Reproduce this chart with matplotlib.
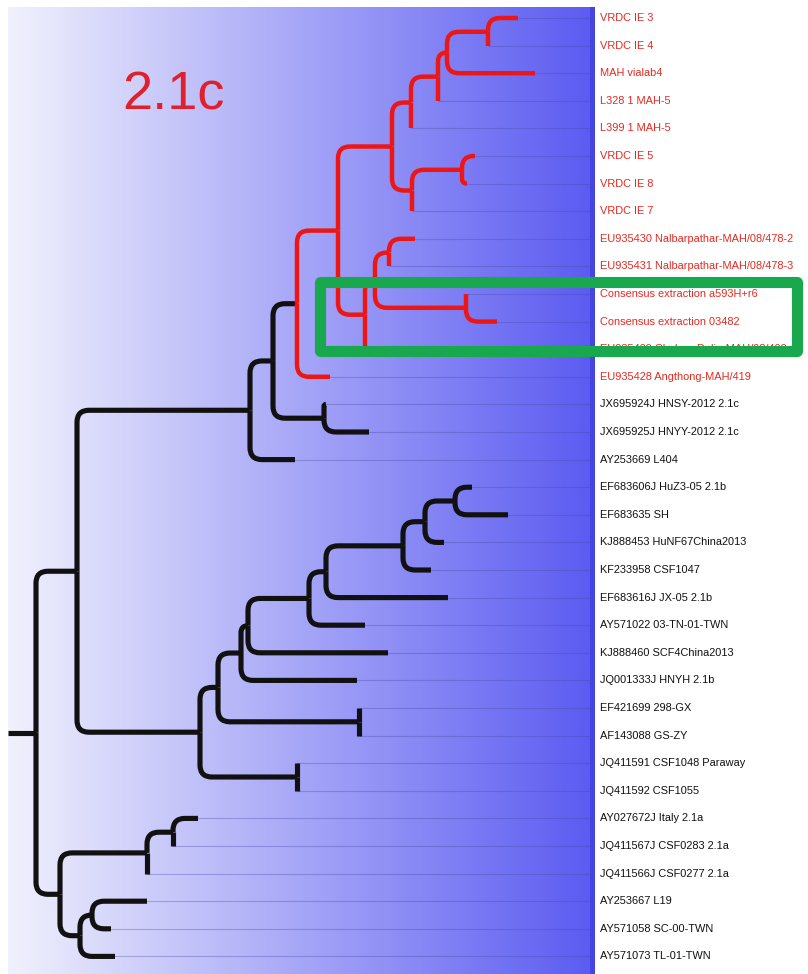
import matplotlib
matplotlib.use("Agg")
import matplotlib.pyplot as plt
import numpy as np
from matplotlib import font_manager
from matplotlib.path import Path
from matplotlib.patches import PathPatch, Rectangle

# ---- tip labels, top to bottom ----
leaf_labels = [
    "VRDC IE 3",
    "VRDC IE 4",
    "MAH vialab4",
    "L328 1 MAH-5",
    "L399 1 MAH-5",
    "VRDC IE 5",
    "VRDC IE 8",
    "VRDC IE 7",
    "EU935430 Nalbarpathar-MAH/08/478-2",
    "EU935431 Nalbarpathar-MAH/08/478-3",
    "Consensus extraction a593H+r6",
    "Consensus extraction 03482",
    "EU935429 Chabua-Dulia-MAH/08/402",
    "EU935428 Angthong-MAH/419",
    "JX695924J HNSY-2012 2.1c",
    "JX695925J HNYY-2012 2.1c",
    "AY253669 L404",
    "EF683606J HuZ3-05 2.1b",
    "EF683635 SH",
    "KJ888453 HuNF67China2013",
    "KF233958 CSF1047",
    "EF683616J JX-05 2.1b",
    "AY571022 03-TN-01-TWN",
    "KJ888460 SCF4China2013",
    "JQ001333J HNYH 2.1b",
    "EF421699 298-GX",
    "AF143088 GS-ZY",
    "JQ411591 CSF1048 Paraway",
    "JQ411592 CSF1055",
    "AY027672J Italy 2.1a",
    "JQ411567J CSF0283 2.1a",
    "JQ411566J CSF0277 2.1a",
    "AY253667 L19",
    "AY571058 SC-00-TWN",
    "AY571073 TL-01-TWN",
]

# leaves belonging to the highlighted 2.1c clade (drawn in red)
highlight_leaves = list(range(14))
boxed_leaves = [10, 11, 12]
clade_title = "2.1c"

# ---- topology with branch lengths (leaf ids index leaf_labels) ----
sub_2_1c_top = "(((((0:0.030,1:0):0.041,2:0.088):0.009,3:0):0.027,4:0):0.019,((5:0.013,6:0.005):0.050,7:0):0.020)"
sub_2_1c_box = "(((8:0.026,9:0):0.014,(10:0,11:0.031):0.091):0.010,12:0.001)"
red_clade = "((" + sub_2_1c_top + ":0.054," + sub_2_1c_box + ":0.027):0.041,13:0.033)"
group_2_1c = "((" + red_clade + ":0.024,(14:0.002,15:0.045):0.051):0.023,16:0.045)"
group_2_1b = ("((((((((17:0.017,18:0.053):0.030,19:0.019):0.022,20:0.028):0.077,21:0.122):0.017,"
              "22:0.056):0.061,23:0.140):0.007,24:0.116):0.023,(25:0,26:0):0.141)")
group_2_1b = "(" + group_2_1b + ":0.018,(27:0,28:0):0.097)"
group_2_1a = "(((29:0.025,30:0):0.026,31:0):0.087,((32:0.055,33:0.019):0.012,34:0.035):0.020)"
newick = "((" + group_2_1c + ":0.173," + group_2_1b + ":0.123):0.041," + group_2_1a + ":0.024):0.028"


def parse_newick(s):
    pos = 0

    def node():
        nonlocal pos
        children, leaf = [], None
        if s[pos] == "(":
            pos += 1
            while True:
                children.append(node())
                if s[pos] == ",":
                    pos += 1
                    continue
                pos += 1  # ')'
                break
        else:
            start = pos
            while s[pos] not in ":,)":
                pos += 1
            leaf = int(s[start:pos])
        length = 0.0
        if pos < len(s) and s[pos] == ":":
            pos += 1
            start = pos
            while pos < len(s) and s[pos] not in ",)":
                pos += 1
            length = float(s[start:pos])
        return {"children": children, "leaf": leaf, "len": length}

    return node()


tree = parse_newick(newick)


def layout(n, x0):
    n["x"] = x0 + n["len"]
    if n["leaf"] is not None:
        n["y"] = float(n["leaf"])
    else:
        for c in n["children"]:
            layout(c, n["x"])
        n["y"] = 0.5 * (n["children"][0]["y"] + n["children"][-1]["y"])


layout(tree, 0.0)

# label font: a narrow face if one is installed
try:
    font_manager.findfont(font_manager.FontProperties(family="Liberation Sans Narrow"),
                          fallback_to_default=False)
    label_family, label_size = "Liberation Sans Narrow", 9.0
except Exception:
    label_family, label_size = "Liberation Sans", 7.9

# ---- figure ----
W, H, DPI = 808, 974, 100
fig = plt.figure(figsize=(W / DPI, H / DPI), dpi=DPI)
ax = fig.add_axes([0, 0, 1, 1])
ax.axis("off")

PX_X = 1000.0          # pixels per unit of branch length
PX_Y = 27.6            # pixels per leaf row
X0_PX, Y0_PX = 8, 18   # pixel position of distance 0 and of leaf 0


def xd(px):
    return (px - X0_PX) / PX_X


def yd(px):
    return (px - Y0_PX) / PX_Y


ax.set_xlim(xd(0), xd(W))
ax.set_ylim(yd(H), yd(0))

# background gradient panel
grad_right = xd(590)
left_c = np.array([241, 241, 253]) / 255
right_c = np.array([92, 92, 242]) / 255
t = np.linspace(0, 1, 400)
grad = (left_c[None, :] * (1 - t[:, None]) + right_c[None, :] * t[:, None])[None, :, :]
ax.imshow(grad, extent=(xd(8), grad_right, yd(H), yd(7)), aspect="auto",
          interpolation="bilinear", zorder=0)
ax.add_patch(Rectangle((grad_right, yd(7)), xd(595) - grad_right, yd(H) - yd(7),
                       facecolor="#4545e2", edgecolor="none", zorder=0.5))

BLACK = "#111111"
RED = "#ee1515"
LABEL_RED = "#e42a22"

red_set = set(highlight_leaves)


def leaves_of(n):
    if n["leaf"] is not None:
        return [n["leaf"]]
    out = []
    for c in n["children"]:
        out += leaves_of(c)
    return out


def is_red(n):
    return set(leaves_of(n)) <= red_set


def branch(xn, yn, xc, yc, color, lw):
    dx_px = (xc - xn) * PX_X
    dy_px = abs(yc - yn) * PX_Y
    if dx_px < 1.0:
        verts = [(xn, yn), (xn, yc)]
        codes = [Path.MOVETO, Path.LINETO]
    else:
        r = min(12.0, dy_px, dx_px)
        sgn = np.sign(yc - yn)
        verts = [(xn, yn), (xn, yc - sgn * r / PX_Y), (xn, yc), (xn + r / PX_X, yc), (xc, yc)]
        codes = [Path.MOVETO, Path.LINETO, Path.CURVE3, Path.CURVE3, Path.LINETO]
    ax.add_patch(PathPatch(Path(verts, codes), fill=False, edgecolor=color, lw=lw,
                           capstyle="butt", joinstyle="round", zorder=3))


tips_x = {}


def draw(n):
    if n["leaf"] is not None:
        tips_x[n["leaf"]] = n["x"]
        return
    red = is_red(n)
    for c in n["children"]:
        branch(n["x"], n["y"], c["x"], c["y"], RED if red else BLACK, 3.2 if red else 3.7)
        draw(c)


# root stub
ax.plot([0, tree["x"]], [tree["y"], tree["y"]], color=BLACK, lw=3.7, solid_capstyle="butt", zorder=3)
draw(tree)

# faint guide lines from each tip to the label column
for i in range(len(leaf_labels)):
    ax.plot([tips_x[i], grad_right], [i, i], color="#4a4aa8", lw=0.8, alpha=0.35, zorder=1)

# tip labels
for i, lab in enumerate(leaf_labels):
    ax.text(xd(600), i, lab, ha="left", va="center", fontsize=label_size,
            color=LABEL_RED if i in red_set else BLACK,
            family=[label_family, "DejaVu Sans"], zorder=4)

# clade title
ax.text(xd(173), yd(95), clade_title, ha="center", va="center", fontsize=39,
        color="#e0202c", family=["Liberation Sans", "DejaVu Sans"], zorder=4)

# highlight box around the boxed sequences
y_top = min(boxed_leaves) - 0.43
y_bot = max(boxed_leaves) + 0.07
ax.add_patch(Rectangle((xd(320), y_top), xd(797) - xd(320), y_bot - y_top,
                       fill=False, edgecolor="#1aa84e", lw=8, joinstyle="round", zorder=6))

fig.savefig("out.png", dpi=DPI)
